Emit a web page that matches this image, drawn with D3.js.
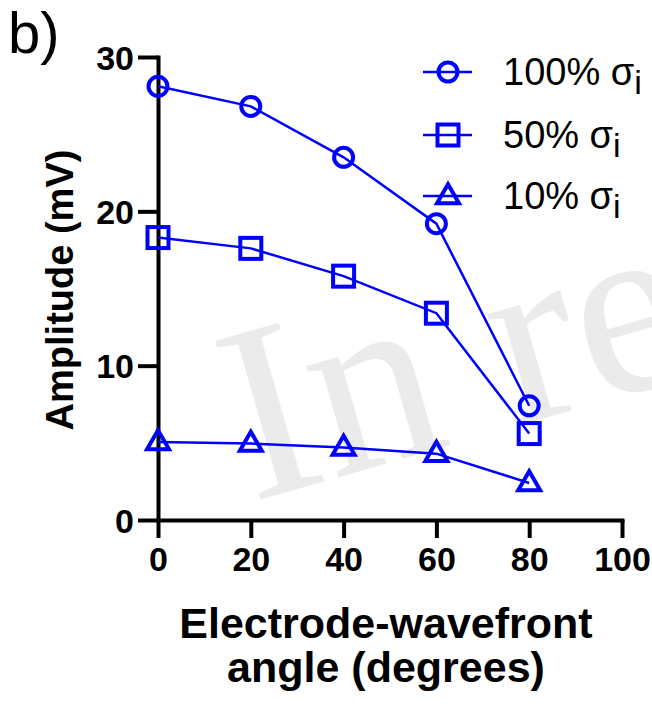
<!DOCTYPE html>
<html>
<head>
<meta charset="utf-8">
<script src="https://cdn.jsdelivr.net/npm/d3@7"></script>
<style>
  html, body { margin: 0; padding: 0; background: #fff; }
  svg { display: block; }
</style>
</head>
<body>
<svg id="chart" width="652" height="706"></svg>
<script>
// ---- data ----
const angles = [0, 20, 40, 60, 80];
const amp100 = [28.1, 26.8, 23.5, 19.2, 7.4];
const amp50 = [18.3, 17.6, 15.8, 13.4, 5.6];
const amp10 = [5.05, 4.95, 4.7, 4.3, 2.4];
const seriesNames = ["100% σ", "50% σ", "10% σ"];
const seriesSub = "i";
const seriesMarkers = ["circle", "square", "triangle"];
const xTicks = [0, 20, 40, 60, 80, 100];
const yTicks = [0, 10, 20, 30];

const series = [amp100, amp50, amp10].map((vals, i) => ({
  name: seriesNames[i],
  marker: seriesMarkers[i],
  points: angles.map((a, j) => ({ x: a, y: vals[j] }))
}));

const svg = d3.select("#chart");
const blue = "#0000ff";

const x = d3.scaleLinear().domain([0, 100]).range([158, 622]);
const y = d3.scaleLinear().domain([0, 30]).range([520, 57]);

// watermark
svg.append("text")
  .attr("transform", "translate(252,502) rotate(-16)")
  .attr("font-family", "Liberation Serif, serif")
  .attr("font-size", 252)
  .attr("fill", "#ebebeb")
  .text("In re");

// panel label
svg.append("text")
  .attr("x", 8).attr("y", 53)
  .attr("font-family", "Liberation Sans, Arial, sans-serif")
  .attr("font-size", 58)
  .attr("fill", "#000")
  .text("b)");

// axes
const xAxis = d3.axisBottom(x).tickValues(xTicks).tickSize(18).tickSizeOuter(0).tickPadding(7);
const yAxis = d3.axisLeft(y).tickValues(yTicks).tickSize(20).tickSizeOuter(0).tickPadding(4);

const gx = svg.append("g").attr("transform", `translate(0,${y(0)})`).call(xAxis);
const gy = svg.append("g").attr("transform", `translate(${x(0)},0)`).call(yAxis);

[gx, gy].forEach(g => {
  g.select(".domain").attr("stroke", "#000").attr("stroke-width", 4).attr("stroke-linecap", "square");
  g.selectAll(".tick line").attr("stroke", "#000").attr("stroke-width", 4);
  g.selectAll(".tick text")
    .attr("font-family", "Liberation Sans, Arial, sans-serif")
    .attr("font-weight", "bold")
    .attr("font-size", 34)
    .attr("fill", "#000");
});
gx.selectAll(".tick text").attr("dy", "0.75em");
gy.selectAll(".tick text").attr("dy", "0.36em");

// axis titles
svg.append("text")
  .attr("x", 386).attr("y", 638)
  .attr("text-anchor", "middle")
  .attr("font-family", "Liberation Sans, Arial, sans-serif")
  .attr("font-weight", "bold").attr("font-size", 43)
  .text("Electrode-wavefront");
svg.append("text")
  .attr("x", 386).attr("y", 682)
  .attr("text-anchor", "middle")
  .attr("font-family", "Liberation Sans, Arial, sans-serif")
  .attr("font-weight", "bold").attr("font-size", 43)
  .text("angle (degrees)");
svg.append("text")
  .attr("transform", "translate(73,290) rotate(-90)")
  .attr("text-anchor", "middle")
  .attr("font-family", "Liberation Sans, Arial, sans-serif")
  .attr("font-weight", "bold").attr("font-size", 38)
  .text("Amplitude (mV)");

// marker drawing
function drawMarker(g, type, cx, cy) {
  if (type === "circle") {
    g.append("circle").attr("cx", cx).attr("cy", cy).attr("r", 9.5)
      .attr("fill", "none").attr("stroke", blue).attr("stroke-width", 4);
  } else if (type === "square") {
    g.append("rect").attr("x", cx - 10.5).attr("y", cy - 10.5).attr("width", 21).attr("height", 21)
      .attr("fill", "none").attr("stroke", blue).attr("stroke-width", 4);
  } else {
    const s = 22, h = s * Math.sqrt(3) / 2;
    const pts = [[cx, cy - h * 0.62], [cx - s / 2, cy + h * 0.38], [cx + s / 2, cy + h * 0.38]];
    g.append("polygon").attr("points", pts.map(p => p.join(",")).join(" "))
      .attr("fill", "none").attr("stroke", blue).attr("stroke-width", 4).attr("stroke-linejoin", "miter");
  }
}

const line = d3.line().x(d => x(d.x)).y(d => y(d.y));
const plot = svg.append("g");
series.forEach(s => {
  const gm = plot.append("g");
  s.points.forEach(p => drawMarker(gm, s.marker, x(p.x), y(p.y)));
  plot.append("path").datum(s.points).attr("d", line)
    .attr("fill", "none").attr("stroke", blue).attr("stroke-width", 2.5);
});

// legend
const legendY = [72, 135, 196];
series.forEach((s, i) => {
  const g = svg.append("g");
  const ly = legendY[i];
  g.append("line").attr("x1", 423).attr("x2", 472).attr("y1", ly).attr("y2", ly)
    .attr("stroke", blue).attr("stroke-width", 2.5);
  drawMarker(g, s.marker, 448, ly);
  const t = g.append("text")
    .attr("x", 503).attr("y", ly + 13)
    .attr("font-family", "Liberation Sans, Arial, sans-serif")
    .attr("font-size", 38).attr("fill", "#000");
  t.append("tspan").text(s.name);
  t.append("tspan").attr("dy", 9).attr("font-size", 34).text(seriesSub);
});
</script>
</body>
</html>
